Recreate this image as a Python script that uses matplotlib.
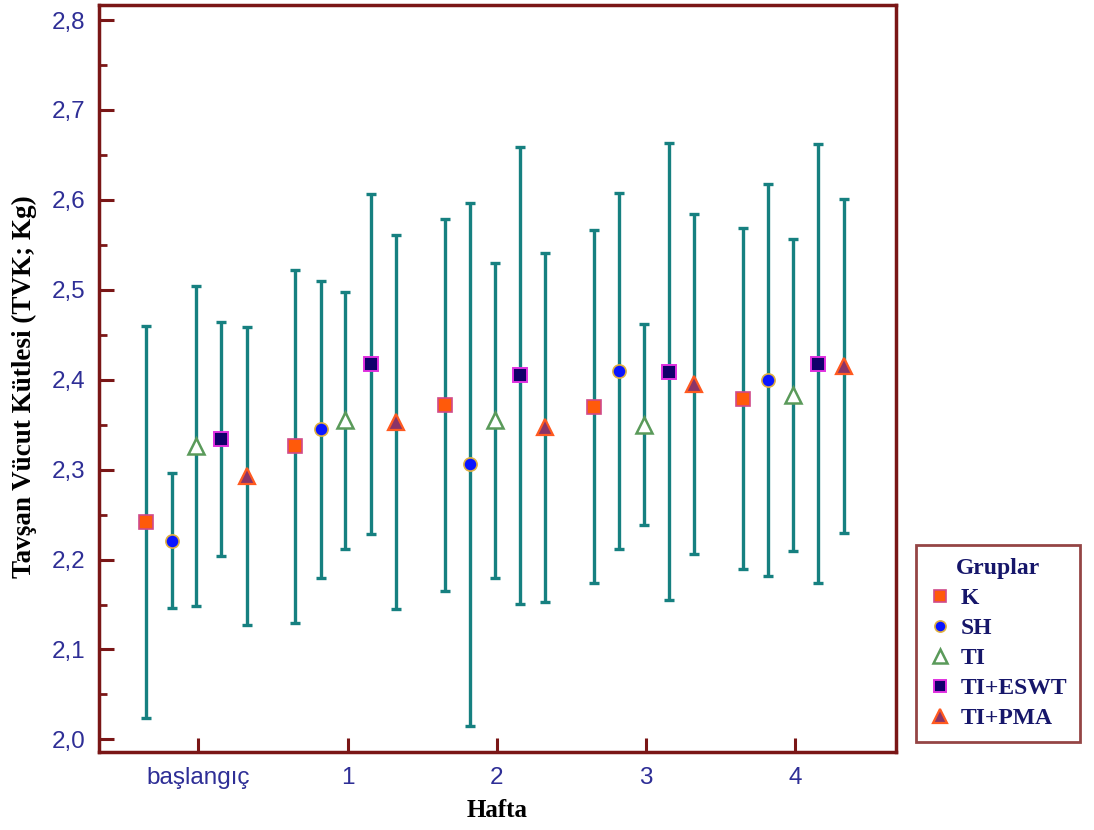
import matplotlib
matplotlib.use("Agg")
import matplotlib.pyplot as plt
from matplotlib.lines import Line2D
from matplotlib.ticker import MultipleLocator
import numpy as np

categories = ["başlangıç", "1", "2", "3", "4"]
groups = ["K", "SH", "TI", "TI+ESWT", "TI+PMA"]

k_mean = [2.242, 2.326, 2.372, 2.370, 2.379]
k_err = [0.218, 0.196, 0.207, 0.196, 0.190]
sh_mean = [2.221, 2.345, 2.306, 2.410, 2.400]
sh_err = [0.075, 0.165, 0.291, 0.198, 0.218]
ti_mean = [2.326, 2.355, 2.355, 2.350, 2.383]
ti_err = [0.178, 0.143, 0.175, 0.112, 0.173]
eswt_mean = [2.334, 2.417, 2.405, 2.409, 2.418]
eswt_err = [0.130, 0.189, 0.254, 0.254, 0.244]
pma_mean = [2.293, 2.353, 2.347, 2.395, 2.415]
pma_err = [0.166, 0.208, 0.194, 0.189, 0.186]

means = [k_mean, sh_mean, ti_mean, eswt_mean, pma_mean]
errs = [k_err, sh_err, ti_err, eswt_err, pma_err]
offsets = [-0.35, -0.18, -0.015, 0.155, 0.325]
styles = [
    dict(marker="s", ms=10, mfc="#ff5a0a", mec="#d04a8a", mew=1.2),
    dict(marker="o", ms=9.5, mfc="#0a14ff", mec="#e0b040", mew=1.2),
    dict(marker="^", ms=12, mfc="white", mec="#5a9a5a", mew=1.8),
    dict(marker="s", ms=9.5, mfc="#12006a", mec="#e030e0", mew=1.4),
    dict(marker="^", ms=12, mfc="#8a3468", mec="#ff5a20", mew=1.6),
]

frame_col = "#7a1616"
teal = "#168080"
navy = "#2e2e96"
legend_navy = "#16166a"

fig = plt.figure(figsize=(10.94, 8.30), dpi=100)
ax = fig.add_axes([99 / 1094, 1 - 752 / 830, (896 - 99) / 1094, (752 - 5) / 830])

x = np.arange(len(categories))
for m, e, off, st in zip(means, errs, offsets, styles):
    ax.errorbar(x + off, m, yerr=e, fmt="none", ecolor=teal, elinewidth=2.4,
                capsize=3.4, capthick=2.4, zorder=2)
    ax.plot(x + off, m, linestyle="none", zorder=3, **st)

ax.set_xlim(-0.666, 4.676)
ax.set_ylim(1.986, 2.8167)
ax.set_xticks(x)
ax.set_xticklabels(categories)
ax.yaxis.set_major_locator(MultipleLocator(0.1))
ax.yaxis.set_minor_locator(MultipleLocator(0.05))
ax.yaxis.set_major_formatter(matplotlib.ticker.FuncFormatter(lambda v, p: f"{v:.1f}".replace(".", ",")))

for sp in ax.spines.values():
    sp.set_color(frame_col)
    sp.set_linewidth(2.5)

ax.tick_params(axis="y", which="major", direction="in", length=11, width=2.2, color=frame_col,
               labelcolor=navy, labelsize=17.5, pad=10)
ax.tick_params(axis="y", which="minor", direction="in", length=6, width=2.0, color=frame_col)
ax.tick_params(axis="x", which="major", direction="in", length=10, width=2.2, color=frame_col,
               labelcolor=navy, labelsize=17.5, pad=11)
for lab in ax.get_xticklabels() + ax.get_yticklabels():
    lab.set_fontfamily("Liberation Sans")

fig.text(0.022, 0.534, "Tavşan Vücut Kütlesi (TVK; Kg)", rotation=90, ha="center", va="center",
         fontsize=19.5, fontweight="bold", family="Liberation Serif", color="black")
fig.text(0.454, 0.024, "Hafta", ha="center", va="center",
         fontsize=18, fontweight="bold", family="Liberation Serif", color="black")

handles = [Line2D([], [], linestyle="none", **st) for st in styles]
for h in handles:
    h.set_markersize(h.get_markersize() * 0.85)
leg = fig.legend(handles, groups, loc="upper left", bbox_to_anchor=(916 / 1094, 1 - 545 / 830),
                 title="Gruplar", frameon=True, fancybox=False, handlelength=0.9,
                 handletextpad=0.45, labelspacing=0.36, borderpad=0.55, borderaxespad=0,
                 prop=dict(family="Liberation Serif", weight="bold", size=17),
                 title_fontproperties=dict(family="Liberation Serif", weight="bold", size=17))
leg.get_frame().set_edgecolor(frame_col)
leg.get_frame().set_linewidth(2.0)
leg.get_title().set_color(legend_navy)
for t in leg.get_texts():
    t.set_color(legend_navy)

fig.savefig("out.png", dpi=100)
